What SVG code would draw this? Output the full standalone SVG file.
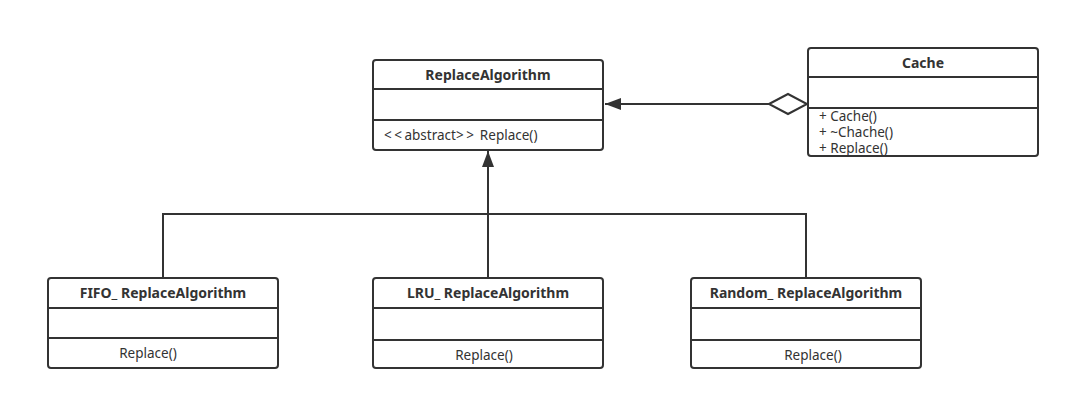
<svg xmlns="http://www.w3.org/2000/svg" width="1070" height="400" viewBox="0 0 1070 400">
<style>
.box{fill:#fff;stroke:#333;stroke-width:2}
.ln{stroke:#333;stroke-width:2;fill:none}
.t{font-family:"Noto Sans","Open Sans",sans-serif;font-size:14px;font-weight:bold;fill:#333;text-anchor:middle}
.m{font-family:"Noto Sans","Open Sans",sans-serif;font-size:13.5px;fill:#333}
.c{text-anchor:middle}
.sp{letter-spacing:2.5px}
</style>
<defs>
<marker id="tri" markerWidth="16" markerHeight="12" refX="16" refY="6" orient="auto" markerUnits="userSpaceOnUse">
<path d="M0,0 L16,6 L0,12 Z" fill="#333"/>
</marker>
</defs>
<rect width="1070" height="400" fill="#fff"/>
<g id="connectors">
<path class="ln" d="M769,104 L605,104" marker-end="url(#tri)"/>
<path d="M769,104 L788,94 L807,104 L788,114 Z" fill="#fff" stroke="#333" stroke-width="2"/>
<path class="ln" d="M488,278 L488,151" marker-end="url(#tri)"/>
<path class="ln" d="M163,278 L163,214 L806,214 L806,278"/>
</g>
<g id="ReplaceAlgorithm">
<rect class="box" x="373" y="60" width="230" height="90" rx="3"/>
<line class="ln" x1="373" y1="89" x2="603" y2="89"/>
<line class="ln" x1="373" y1="120" x2="603" y2="120"/>
<text class="t" x="488" y="80">ReplaceAlgorithm</text>
<text class="m" x="384" y="140"><tspan class="sp">&lt;&lt;</tspan>abstract<tspan class="sp">&gt;&gt;</tspan> Replace()</text>
</g>
<g id="Cache">
<rect class="box" x="808" y="48" width="230" height="108" rx="3"/>
<line class="ln" x1="808" y1="77" x2="1038" y2="77"/>
<line class="ln" x1="808" y1="108" x2="1038" y2="108"/>
<text class="t" x="923" y="68">Cache</text>
<text class="m" x="819" y="121">+ Cache()</text>
<text class="m" x="819" y="137">+ ~Chache()</text>
<text class="m" x="819" y="153">+ Replace()</text>
</g>
<g id="FIFO">
<rect class="box" x="48" y="278" width="230" height="90" rx="3"/>
<line class="ln" x1="48" y1="308" x2="278" y2="308"/>
<line class="ln" x1="48" y1="338" x2="278" y2="338"/>
<text class="t" x="163" y="298">FIFO_ ReplaceAlgorithm</text>
<text class="m c" x="148" y="358">Replace()</text>
</g>
<g id="LRU">
<rect class="box" x="373" y="278" width="230" height="90" rx="3"/>
<line class="ln" x1="373" y1="308" x2="603" y2="308"/>
<line class="ln" x1="373" y1="340" x2="603" y2="340"/>
<text class="t" x="488" y="298">LRU_ ReplaceAlgorithm</text>
<text class="m c" x="484" y="360">Replace()</text>
</g>
<g id="Random">
<rect class="box" x="691" y="278" width="230" height="90" rx="3"/>
<line class="ln" x1="691" y1="308" x2="921" y2="308"/>
<line class="ln" x1="691" y1="340" x2="921" y2="340"/>
<text class="t" x="806" y="298">Random_ ReplaceAlgorithm</text>
<text class="m c" x="813" y="360">Replace()</text>
</g>
</svg>
